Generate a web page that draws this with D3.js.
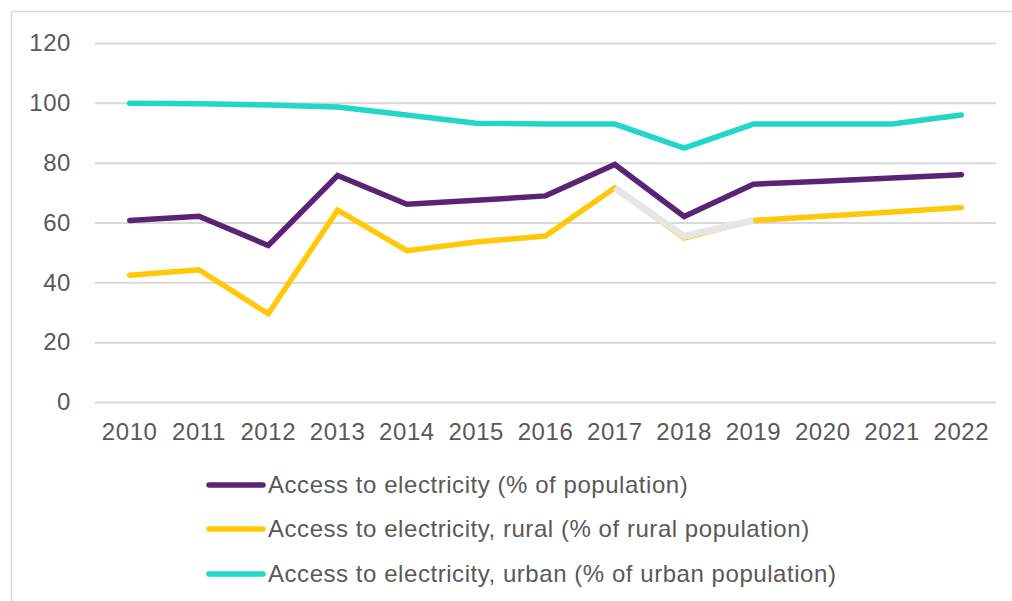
<!DOCTYPE html>
<html>
<head>
<meta charset="utf-8">
<script src="https://cdn.jsdelivr.net/npm/d3@7/dist/d3.min.js"></script>
<style>
  html, body { margin: 0; padding: 0; background: #fff; }
  svg { display: block; font-family: "Liberation Sans", Arial, sans-serif; }
</style>
</head>
<body>
<svg id="chart" width="1012" height="601"></svg>
<script>
// Years on the x axis
const years = [2010, 2011, 2012, 2013, 2014, 2015, 2016, 2017, 2018, 2019, 2020, 2021, 2022];

// Access to electricity, % of each population group
const total = [60.7, 62.1, 52.3, 75.7, 66.1, 67.4, 68.9, 79.4, 62.0, 72.8, 73.8, 74.9, 76.0];
const rural = [42.4, 44.2, 29.5, 64.1, 50.6, 53.5, 55.5, 71.6, 54.8, 60.7, 62.1, 63.5, 65.0];
const urban = [99.9, 99.7, 99.3, 98.6, 95.9, 93.2, 92.9, 92.9, 84.9, 92.9, 92.9, 92.9, 95.9];

const yTicks = [0, 20, 40, 60, 80, 100, 120];

const seriesNames = [
  "Access to electricity (% of population)",
  "Access to electricity, rural (% of rural population)",
  "Access to electricity, urban (% of urban population)"
];
const seriesColors = ["#5a2474", "#ffc90a", "#22d6c8"];

const series = [
  { name: seriesNames[0], values: total, color: seriesColors[0] },
  { name: seriesNames[1], values: rural, color: seriesColors[1] },
  { name: seriesNames[2], values: urban, color: seriesColors[2] }
];

const svg = d3.select("#chart");
const textColor = "#595959";
const gridColor = "#d9d9d9";
const letterSpacing = "0.55px";

// outer frame of the chart area
svg.append("rect")
  .attr("x", 11.5).attr("y", 11.5)
  .attr("width", 1020).attr("height", 620)
  .attr("fill", "#fff")
  .attr("stroke", "#d9d9d9")
  .attr("stroke-width", 1.5);

const plot = { left: 95, right: 996, top: 43, bottom: 402 };

const x = d3.scaleBand()
  .domain(years)
  .range([plot.left, plot.right])
  .paddingInner(0).paddingOuter(0);

const y = d3.scaleLinear()
  .domain([0, 120])
  .range([plot.bottom, plot.top]);

// horizontal gridlines + y labels
const yAxis = d3.axisLeft(y)
  .tickValues(yTicks)
  .tickSize(-(plot.right - plot.left))
  .tickPadding(24);

const gy = svg.append("g")
  .attr("transform", `translate(${plot.left},0)`)
  .call(yAxis);
gy.select(".domain").remove();
gy.selectAll(".tick line").attr("stroke", gridColor).attr("stroke-width", 2);
gy.selectAll(".tick text")
  .attr("fill", textColor)
  .attr("font-size", "24px")
  .attr("letter-spacing", letterSpacing)
  .attr("font-family", "Liberation Sans, Arial, sans-serif");

// x labels
const xAxis = d3.axisBottom(x).tickSize(0).tickPadding(21);
const gx = svg.append("g")
  .attr("transform", `translate(0,${plot.bottom})`)
  .call(xAxis);
gx.select(".domain").remove();
gx.selectAll(".tick text")
  .attr("fill", textColor)
  .attr("font-size", "24px")
  .attr("letter-spacing", letterSpacing)
  .attr("font-family", "Liberation Sans, Arial, sans-serif");

const cx = yr => x(yr) + x.bandwidth() / 2;

const line = d3.line()
  .x((d, i) => cx(years[i]))
  .y(d => y(d));

// draw order: total, urban, rural
[series[0], series[2], series[1]].forEach(s => {
  svg.append("path")
    .datum(s.values)
    .attr("d", line)
    .attr("fill", "none")
    .attr("stroke", s.color)
    .attr("stroke-width", 5.5)
    .attr("stroke-linecap", "round")
    .attr("stroke-linejoin", "miter");
});

// light grey highlight across the 2017–2019 rural segment
const hiStart = years.indexOf(2017), hiEnd = years.indexOf(2019);
const hiLine = d3.line()
  .x(d => cx(d.year))
  .y(d => y(d.v));
const hiData = years.slice(hiStart, hiEnd + 1).map((yr, k) => ({ year: yr, v: rural[hiStart + k] + (k === 1 ? 0.6 : 0) }));
svg.append("path")
  .datum(hiData)
  .attr("d", hiLine)
  .attr("fill", "none")
  .attr("stroke", "#e6e6e6")
  .attr("stroke-width", 7)
  .attr("stroke-linecap", "butt")
  .attr("stroke-linejoin", "miter");

// legend
const legendRows = [485, 529, 574];
const leg = svg.append("g");
series.forEach((s, i) => {
  const g = leg.append("g").attr("transform", `translate(0,${legendRows[i]})`);
  g.append("line")
    .attr("x1", 209).attr("x2", 263)
    .attr("y1", 0).attr("y2", 0)
    .attr("stroke", s.color)
    .attr("stroke-width", 5.5)
    .attr("stroke-linecap", "round");
  g.append("text")
    .attr("x", 268).attr("y", 0)
    .attr("dy", "0.35em")
    .attr("fill", textColor)
    .attr("font-size", "24px")
    .attr("letter-spacing", letterSpacing)
    .text(s.name);
});
</script>
</body>
</html>
